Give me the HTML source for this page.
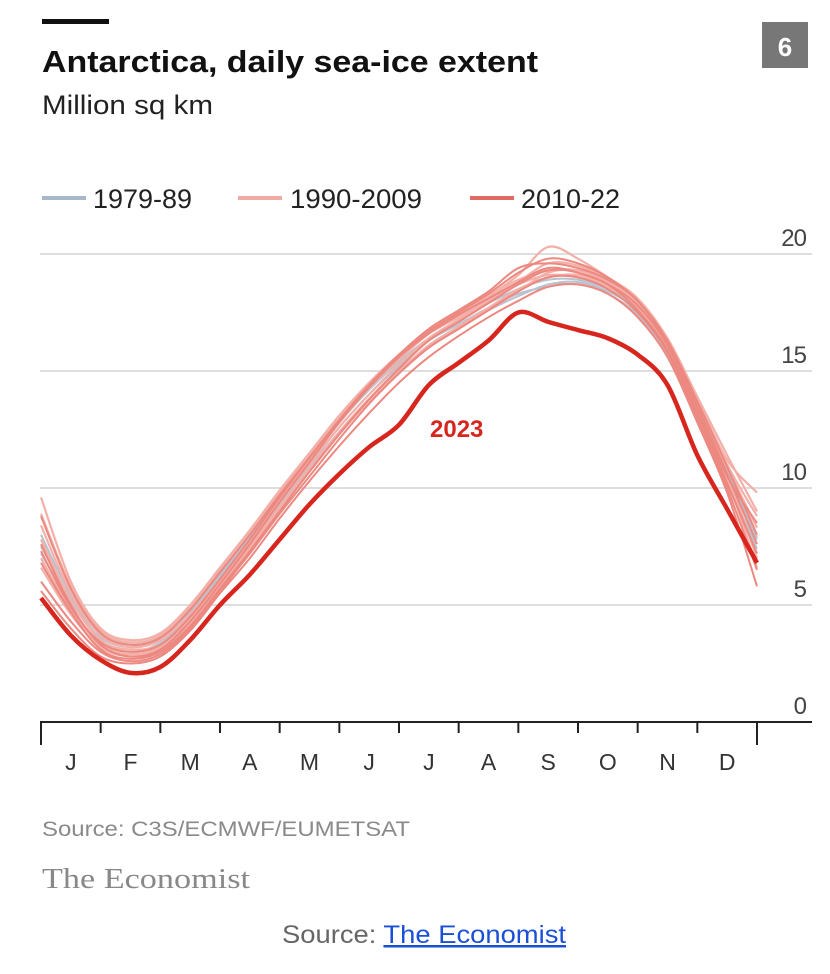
<!DOCTYPE html>
<html><head><meta charset="utf-8"><style>
body{margin:0;background:#fff;width:830px;height:974px;overflow:hidden;font-family:"Liberation Sans",sans-serif}
svg{position:absolute;left:0;top:0}
</style></head><body>
<svg width="830" height="974">
<rect x="42" y="19" width="67" height="5" fill="#111"/>
<rect x="762" y="22" width="46" height="46" fill="#777"/>
<text x="785" y="56" text-anchor="middle" font-size="26" font-weight="bold" fill="#fff" font-family="Liberation Sans,sans-serif">6</text>
<text x="42" y="72" font-size="31" font-weight="bold" fill="#111" font-family="Liberation Sans,sans-serif" textLength="496" lengthAdjust="spacingAndGlyphs">Antarctica, daily sea-ice extent</text>
<text x="42" y="114" font-size="27" fill="#222" font-family="Liberation Sans,sans-serif" textLength="171" lengthAdjust="spacingAndGlyphs">Million sq km</text>
<g font-family="Liberation Sans,sans-serif" font-size="27" fill="#222">
<line x1="42" y1="198" x2="86" y2="198" stroke="#a9b8c8" stroke-width="4"/>
<text x="93" y="208" textLength="99" lengthAdjust="spacingAndGlyphs">1979-89</text>
<line x1="238" y1="198" x2="282" y2="198" stroke="#f0aca4" stroke-width="4"/>
<text x="290" y="208" textLength="132" lengthAdjust="spacingAndGlyphs">1990-2009</text>
<line x1="470" y1="198" x2="514" y2="198" stroke="#e06a62" stroke-width="4"/>
<text x="521" y="208" textLength="99" lengthAdjust="spacingAndGlyphs">2010-22</text>
</g>
<g id="grid"></g>
<g id="lines"></g>
<g id="axis"></g>
<text x="430" y="437" font-size="24" font-weight="bold" fill="#d7261e" font-family="Liberation Sans,sans-serif">2023</text>
<text x="42" y="836" font-size="21" fill="#8a8a8a" font-family="Liberation Sans,sans-serif" textLength="368" lengthAdjust="spacingAndGlyphs">Source: C3S/ECMWF/EUMETSAT</text>
<text x="42" y="888" font-size="28" fill="#888" font-family="Liberation Serif,serif" textLength="208" lengthAdjust="spacingAndGlyphs">The Economist</text>
<text x="282" y="943" font-size="25" fill="#666" font-family="Liberation Sans,sans-serif" textLength="284" lengthAdjust="spacingAndGlyphs">Source: <tspan fill="#1a4fd6" text-decoration="underline">The Economist</tspan></text>
</svg>
<script>
const yTicks=[0,5,10,15,20];
const months=["J","F","M","A","M","J","J","A","S","O","N","D"];
const s1979=[
[7.2,5.1,3.6,3.2,3.5,4.6,6.2,7.8,9.4,11.0,12.6,14.0,15.2,16.3,17.0,17.7,18.3,18.6,18.7,18.3,17.4,15.7,13.1,10.3,7.4],
[8.0,5.4,3.5,3.0,3.4,4.5,6.0,7.6,9.3,10.9,12.4,13.8,15.0,16.1,16.9,17.6,18.2,18.7,18.8,18.4,17.6,15.9,13.4,10.8,7.8],
[7.5,5.3,3.8,3.3,3.6,4.7,6.3,7.9,9.6,11.2,12.8,14.2,15.4,16.4,17.2,17.9,18.5,18.9,18.9,18.5,17.7,16.0,13.5,10.6,7.9]];
const s1990=[
[9.6,6.0,4.0,3.5,3.8,5.0,6.6,8.2,9.9,11.5,13.1,14.5,15.7,16.7,17.5,18.2,18.9,19.3,19.3,18.8,17.9,16.3,13.8,11.2,9.8],
[8.4,5.5,3.7,3.2,3.5,4.6,6.1,7.7,9.4,11.0,12.6,14.0,15.3,16.4,17.2,18.0,18.8,19.6,19.5,18.9,17.9,16.2,13.6,10.9,8.3],
[7.0,4.8,3.3,2.9,3.2,4.3,5.9,7.5,9.2,10.8,12.4,13.8,15.0,16.1,16.9,17.7,18.5,19.0,19.1,18.6,17.7,16.0,13.5,10.6,7.0],
[7.8,5.2,3.5,3.1,3.3,4.4,6.0,7.7,9.5,11.2,12.8,14.3,15.5,16.6,17.4,18.2,19.1,20.3,19.8,19.0,18.1,16.4,13.9,11.4,9.0],
[8.9,5.8,3.9,3.4,3.7,4.9,6.5,8.1,9.8,11.4,13.0,14.4,15.6,16.6,17.3,18.0,18.7,19.1,19.0,18.6,17.8,16.2,13.7,11.0,8.8],
[6.6,4.6,3.2,2.8,3.1,4.2,5.8,7.4,9.1,10.7,12.3,13.7,14.9,16.0,16.8,17.6,18.4,19.2,19.3,18.8,17.9,16.1,13.4,10.4,6.6]];
const s2010=[
[6.0,4.3,3.0,2.6,2.9,4.0,5.6,7.2,8.9,10.5,12.1,13.6,14.9,16.0,16.8,17.6,18.4,19.0,19.0,18.5,17.5,15.8,13.0,10.0,6.5],
[7.6,5.0,3.3,2.8,3.1,4.3,5.9,7.6,9.4,11.1,12.8,14.3,15.6,16.7,17.5,18.3,19.2,19.8,19.6,19.0,18.0,16.3,13.7,10.9,8.0],
[5.6,4.0,2.8,2.5,2.8,3.9,5.5,7.0,8.7,10.3,11.8,13.2,14.5,15.6,16.5,17.3,18.0,18.6,18.7,18.3,17.3,15.6,12.8,9.8,5.8],
[8.8,5.7,3.8,3.3,3.6,4.8,6.4,8.0,9.7,11.3,12.9,14.4,15.6,16.6,17.4,18.1,18.8,19.4,19.2,18.7,17.8,16.1,13.4,10.5,8.5],
[6.8,4.7,3.1,2.7,3.0,4.1,5.7,7.3,9.0,10.7,12.3,13.8,15.1,16.3,17.1,17.9,18.7,19.3,19.2,18.7,17.6,15.9,13.2,10.2,7.2],
[7.3,4.9,3.4,3.0,3.3,4.5,6.1,7.8,9.6,11.3,12.9,14.4,15.7,16.8,17.6,18.4,19.4,19.6,19.4,18.9,18.0,16.2,13.5,10.6,7.6]];
const s2023=[5.3,3.7,2.65,2.1,2.35,3.5,5.0,6.3,7.8,9.3,10.6,11.75,12.7,14.4,15.35,16.3,17.5,17.1,16.75,16.4,15.7,14.4,11.4,9.1,6.8];
const NS="http://www.w3.org/2000/svg";
const X0=41,X1=757,Y0=722,YS=23.4;
const xPos=i=>X0+(X1-X0)*i/24;
const xMonth=m=>X0+(X1-X0)*m/12;
const yPos=v=>Y0-v*YS;
function mk(tag,attrs,parent){const e=document.createElementNS(NS,tag);for(const k in attrs)e.setAttribute(k,attrs[k]);parent.appendChild(e);return e;}
const grid=document.getElementById('grid'),lines=document.getElementById('lines'),axis=document.getElementById('axis');
yTicks.forEach(v=>{
 if(v>0){const l=mk('line',{x1:40,x2:812,y1:yPos(v),y2:yPos(v),stroke:'#d4d4d4','stroke-width':1.5},grid);
 
 }
 const t=mk('text',{x:806,y:yPos(v)-8,'text-anchor':'end','font-size':24,fill:'#444','font-family':'Liberation Sans,sans-serif','letter-spacing':'-1'},grid);
 t.textContent=v;
 
 
});
function path(vals){const p=vals.map((v,i)=>[xPos(i),yPos(v)]);let d='M'+p[0][0]+','+p[0][1];
 for(let i=0;i<p.length-1;i++){const a=p[Math.max(0,i-1)],b=p[i],c=p[i+1],e=p[Math.min(p.length-1,i+2)];
 d+=' C'+(b[0]+(c[0]-a[0])/6)+','+(b[1]+(c[1]-a[1])/6)+' '+(c[0]-(e[0]-b[0])/6)+','+(c[1]-(e[1]-b[1])/6)+' '+c[0]+','+c[1];}return d;}
s1979.forEach(s=>{const e=mk('path',{d:path(s),fill:'none',stroke:'#b8c2cf','stroke-width':2},lines);
 
 });
s1990.forEach(s=>{const e=mk('path',{d:path(s),fill:'none',stroke:'#f3b0a8','stroke-width':2.2},lines);
 
 });
s2010.forEach(s=>{const e=mk('path',{d:path(s),fill:'none',stroke:'#ec8880','stroke-width':2},lines);
 
 });
const l23=mk('path',{d:path(s2023),fill:'none',stroke:'#d7261e','stroke-width':4.5,'stroke-linejoin':'round'},lines);


const ax=mk('line',{x1:40,x2:812,y1:Y0,y2:Y0,stroke:'#222','stroke-width':2},axis);


for(let m=0;m<=12;m++){const long=(m===0||m===12);
 const t=mk('line',{x1:xMonth(m),x2:xMonth(m),y1:Y0,y2:long?745:733,stroke:'#222','stroke-width':2},axis);
 
 }
months.forEach((m,i)=>{const t=mk('text',{x:(xMonth(i)+xMonth(i+1))/2,y:770,'text-anchor':'middle','font-size':23,fill:'#333','font-family':'Liberation Sans,sans-serif'},axis);
 t.textContent=m;
 
 });
</script>
</body></html>
